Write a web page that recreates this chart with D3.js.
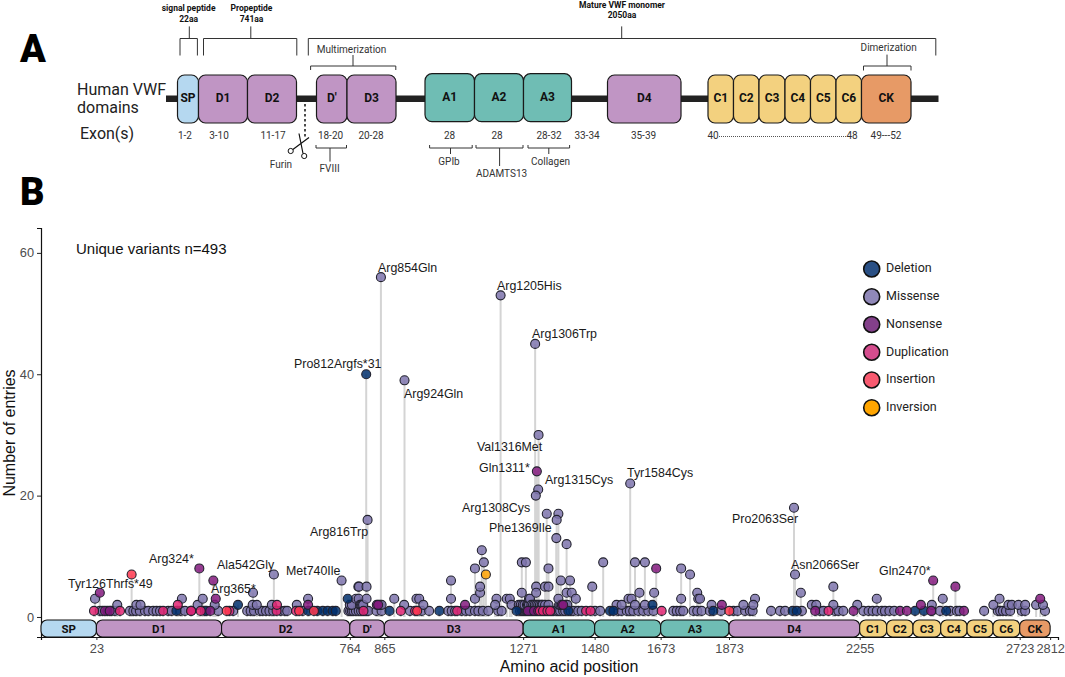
<!DOCTYPE html>
<html>
<head>
<meta charset="utf-8">
<script src="https://cdn.jsdelivr.net/npm/d3@7"></script>
<style>
  html, body { margin: 0; padding: 0; background: #fff; }
  svg { display: block; }
  .roboto { font-family: Roboto, sans-serif; }
  .arial { font-family: "Liberation Sans", Arial, sans-serif; }
</style>
</head>
<body>
<div id="chart"></div>
<script>
// variant positions (amino acid) that have one entry
const missenseOnes = [33,41,67,77,121,131,139,150,165,175,189,199,209,233,243,269,282,340,379,423,464,474,484,501,509,519,529,540,562,574,581,626,760,765,770,775,782,790,797,805,813,818,842,857,940,974,996,1052,1062,1072,1091,1104,1115,1130,1140,1153,1169,1198,1208,1262,1268,1271,1274,1278,1281,1283,1287,1291,1293,1296,1299,1301,1304,1306,1308,1310,1312,1316,1318,1320,1323,1325,1328,1330,1333,1335,1338,1340,1343,1345,1348,1350,1352,1354,1357,1360,1369,1374,1379,1388,1394,1410,1418,1432,1442,1481,1496,1549,1559,1574,1583,1593,1608,1622,1637,1652,1710,1720,1730,1739,1769,1780,1793,1817,1849,1886,1898,1920,1934,1942,1996,2022,2037,2086,2139,2149,2183,2193,2207,2266,2281,2293,2305,2320,2329,2342,2356,2466,2490,2520,2539,2547,2619,2659,2666,2674,2683,2695,2729,2739,2797];
const deletionOnes = [55,257,345,643,669,685,699,714,723,880,1026,1252,1290,1337,1403,1525,1535,1827,2059,2071,2417,2443,2508];
const nonsenseOnes = [48,62,300,356,1285,1303,1315,1346,2125,2237,2373,2393,2464,2560];
const duplicationOnes = [16,92,218,300,328,412,550,607,804,913,955,1078,1320,1329,1342,1350,1455,1468,1676,2164];
const insertionOnes = [404,616,659,961,1874];

// variants with more than one entry, [position, count]
const missenseStacked = [[19,3],[84,2],[140,2],[152,2],[273,3],[319,2],[334,3],[369,2],[480,2],[481,4],[492,2],[536,2],[542,7],[609,2],[642,3],[740,6],[764,2],[770,2],[782,3],[790,3],[789,5],[791,5],[794,2],[797,2],[800,2],[803,2],[813,3],[813,5],[816,16],[852,2],[857,2],[855,56],[894,3],[923,2],[924,39],[959,3],[967,3],[979,2],[1060,6],[1060,3],[1130,3],[1145,4],[1130,8],[1150,11],[1156,9],[1145,5],[1193,3],[1189,2],[1205,53],[1223,3],[1232,3],[1237,2],[1258,2],[1264,2],[1267,9],[1279,9],[1267,4],[1270,2],[1275,2],[1282,2],[1285,2],[1288,2],[1288,3],[1291,3],[1295,2],[1300,2],[1305,2],[1310,2],[1315,2],[1320,2],[1325,2],[1328,2],[1335,2],[1345,2],[1306,45],[1316,30],[1315,21],[1308,20],[1309,5],[1309,4],[1340,17],[1374,17],[1369,16],[1368,13],[1398,12],[1345,8],[1335,5],[1345,5],[1376,2],[1380,2],[1381,6],[1395,2],[1400,2],[1408,6],[1398,4],[1413,4],[1425,3],[1374,3],[1473,5],[1505,9],[1544,2],[1559,2],[1579,3],[1584,22],[1588,3],[1598,9],[1627,9],[1611,4],[1654,4],[1598,2],[1627,2],[1733,8],[1759,7],[1733,3],[1780,4],[1783,3],[1788,3],[1822,2],[1915,2],[1949,3],[1944,2],[2063,18],[2066,7],[2083,4],[2115,2],[2128,2],[2178,5],[2178,2],[2248,2],[2305,3],[2466,2],[2498,3],[2646,2],[2664,3],[2690,2],[2700,2],[2719,2],[2739,2],[2771,2],[2791,2]];
const deletionStacked = [[437,2],[758,3],[812,40],[1649,2]];
const nonsenseStacked = [[33,4],[324,8],[365,6],[372,3],[642,2],[843,2],[847,2],[1101,2],[1311,24],[1384,2],[1388,2],[1660,8],[1852,2],[2434,2],[2470,6],[2535,5],[2783,3]];
const duplicationStacked = [[261,2],[551,2]];
const insertionStacked = [[126,7]];
const inversionStacked = [[1162,7]];

const variantTypes = ["Deletion", "Missense", "Nonsense", "Duplication", "Insertion", "Inversion"];
const legendColors = ["#2a5085", "#9088b8", "#83408a", "#d54d8e", "#f85a70", "#ffa500"];
const pointColors = {Deletion: "#002f6c", Missense: "#7e74ad", Nonsense: "#841a7e", Duplication: "#e22572", Insertion: "#ff374f", Inversion: "#ffa200"};

// protein domains along the x axis
const domainNames = ["SP","D1","D2","D'","D3","A1","A2","A3","D4","C1","C2","C3","C4","C5","C6","CK"];
const domainEdges = [-139,23,389,764,865,1271,1480,1673,1873,2255,2334,2411,2492,2569,2645,2723,2812];
const domainFamilies = ["sp","d","d","d","d","a","a","a","d","c","c","c","c","c","c","k"];
const familyColors = {sp: "#b5d8f0", d: "#c095c4", a: "#6fbdb4", c: "#f3d17f", k: "#e79a66"};
const positionTicks = [23,764,865,1271,1480,1673,1873,2255,2723,2812];
const countTicks = [0,20,40,60];

const variantLabels = ["Tyr126Thrfs*49","Arg324*","Arg365*","Ala542Gly","Met740Ile","Arg816Trp","Pro812Argfs*31","Arg854Gln","Arg924Gln","Arg1205His","Arg1306Trp","Val1316Met","Gln1311*","Arg1315Cys","Arg1308Cys","Phe1369Ile","Tyr1584Cys","Pro2063Ser","Asn2066Ser","Gln2470*"];

// schematic texts of panel A
const schematicNames = ["SP","D1","D2","D'","D3","A1","A2","A3","D4","C1","C2","C3","C4","C5","C6","CK"];
const schematicFamilies = ["sp","d","d","d","d","a","a","a","d","c","c","c","c","c","c","k"];
const exonLabels = ["1-2","3-10","11-17","18-20","20-28","28","28","28-32","33-34","35-39","40","48","49---52"];

// ---- layout only below ----
const width = 1065, height = 677;
const labelStart = [[68,584],[149,559],[211,589],[217,565],[286,571],[310,532],[294,364],[378,268],[404,394],[497,286],[532,334],[477,447],[479,468],[545,480],[462,508],[489,528],[627,473],[732,519],[791,565],[879,571]];
const boxEdges = [[177.5,198.5],[198.5,247.5],[247.5,296.5],[316.5,347],[347,396],[425,474.5],[474.5,523.5],[523.5,571.5],[607.5,681],[708,733.5],[733.5,759],[759,785],[785,810.5],[810.5,836],[836,861.5],[861.5,911]];
const exonCenters = [185,219,273,330.5,371,449.5,497,549,587,643.5,713,852,886];

const svg = d3.select("#chart").append("svg")
  .attr("width", width)
  .attr("height", height)
  .attr("viewBox", [0, 0, width, height]);

const x = d3.scaleLinear().domain([-139, 2835]).range([41, 1058]);
const y = d3.scaleLinear().domain([-3.3, 64.1]).range([637, 228]);

// ---- panel B ----
const asPoints = (ones, stacked, type) =>
  ones.map(p => ({pos: p, count: 1, type: type}))
    .concat(stacked.map(d => ({pos: d[0], count: d[1], type: type})));

const points = [].concat(
  asPoints(missenseOnes, missenseStacked, "Missense"),
  asPoints(deletionOnes, deletionStacked, "Deletion"),
  asPoints(nonsenseOnes, nonsenseStacked, "Nonsense"),
  asPoints(duplicationOnes, duplicationStacked, "Duplication"),
  asPoints(insertionOnes, insertionStacked, "Insertion"),
  asPoints([], inversionStacked, "Inversion")
);

svg.append("g").selectAll("line")
  .data(points)
  .enter().append("line")
  .attr("x1", d => x(d.pos))
  .attr("x2", d => x(d.pos))
  .attr("y1", y(0))
  .attr("y2", d => y(d.count))
  .attr("stroke", "#d4d4d4")
  .attr("stroke-width", 2);

svg.append("g").selectAll("circle")
  .data(points)
  .enter().append("circle")
  .attr("cx", d => x(d.pos))
  .attr("cy", d => y(d.count))
  .attr("r", 4.5)
  .attr("fill", d => pointColors[d.type])
  .attr("fill-opacity", 0.85)
  .attr("stroke", "#22222e")
  .attr("stroke-width", 1.1);

// axes
const xAxis = svg.append("g")
  .attr("transform", `translate(0,${y(-3.3)})`)
  .call(d3.axisBottom(x).tickValues(positionTicks).tickFormat(d3.format("d")).tickSizeOuter(0).tickSize(3).tickPadding(4));
const yAxis = svg.append("g")
  .attr("transform", `translate(${x(-139)},0)`)
  .call(d3.axisLeft(y).tickValues(countTicks).tickSizeOuter(0).tickSize(4).tickPadding(3));
[xAxis, yAxis].forEach(a => {
  a.attr("class", "arial");
  a.selectAll("text").attr("fill", "#4d4d4d").style("font-size", "12.8px").style("font-family", "'Liberation Sans', Arial, sans-serif");
  a.selectAll("line").attr("stroke", "#222");
  a.select(".domain").attr("stroke", "#111").attr("stroke-width", 1.2);
});

// domain bar over the x axis
const domainBar = svg.append("g").selectAll("g")
  .data(domainNames)
  .enter().append("g");
domainBar.append("rect")
  .attr("x", (d, i) => x(domainEdges[i]))
  .attr("width", (d, i) => x(domainEdges[i + 1]) - x(domainEdges[i]))
  .attr("y", 620)
  .attr("height", 17)
  .attr("rx", 6)
  .attr("fill", (d, i) => familyColors[domainFamilies[i]])
  .attr("stroke", "#111")
  .attr("stroke-width", 1.1);
domainBar.append("text")
  .attr("class", "roboto")
  .attr("x", (d, i) => (x(domainEdges[i]) + x(domainEdges[i + 1])) / 2)
  .attr("y", 628.8)
  .attr("dy", "0.35em")
  .attr("text-anchor", "middle")
  .attr("font-size", 11.5)
  .attr("font-weight", 700)
  .attr("fill", "#111")
  .text(d => d);

// titles and notes
svg.append("text").attr("class", "arial")
  .attr("x", 569).attr("y", 672).attr("text-anchor", "middle")
  .attr("font-size", 16).attr("fill", "#111").text("Amino acid position");
svg.append("text").attr("class", "arial")
  .attr("transform", "translate(15,433) rotate(-90)").attr("text-anchor", "middle")
  .attr("font-size", 16).attr("fill", "#111").text("Number of entries");
svg.append("text").attr("class", "arial")
  .attr("x", 76).attr("y", 254).attr("font-size", 15).attr("fill", "#111").text("Unique variants n=493");

svg.append("g").attr("class", "arial").selectAll("text")
  .data(variantLabels)
  .enter().append("text")
  .attr("x", (d, i) => labelStart[i][0])
  .attr("y", (d, i) => labelStart[i][1])
  .attr("dy", "0.35em")
  .attr("font-size", 12.4)
  .attr("fill", "#1a1a1a")
  .text(d => d);

// legend
const legendY = d3.scalePoint().domain(variantTypes).range([269, 407.7]);
const legend = svg.append("g").selectAll("g")
  .data(variantTypes)
  .enter().append("g");
legend.append("circle")
  .attr("cx", 871.7)
  .attr("cy", d => legendY(d))
  .attr("r", 8)
  .attr("fill", (d, i) => legendColors[i])
  .attr("stroke", "#111")
  .attr("stroke-width", 1.6);
legend.append("text")
  .attr("class", "roboto")
  .attr("x", 886)
  .attr("y", d => legendY(d) - 1)
  .attr("dy", "0.35em")
  .attr("font-size", 12.5)
  .attr("fill", "#222")
  .text(d => d);

// ---- panel A ----
const panelA = svg.append("g").attr("class", "roboto");

panelA.append("text").attr("x", 20).attr("y", 62).attr("font-size", 38).attr("font-weight", 900).attr("fill", "#000").text("A");
panelA.append("text").attr("x", 20).attr("y", 205).attr("font-size", 38).attr("font-weight", 900).attr("fill", "#000").text("B");

[["Human VWF", 77, 89.6], ["domains", 77, 107.5], ["Exon(s)", 80, 133]].forEach(t => {
  panelA.append("text").attr("x", t[1]).attr("y", t[2]).attr("dy", "0.35em")
    .attr("font-size", 16).attr("fill", "#222").text(t[0]);
});

panelA.append("rect").attr("x", 166).attr("y", 95.5).attr("width", 772.5).attr("height", 6.5).attr("fill", "#222");

const boxes = panelA.selectAll("g.box")
  .data(schematicNames)
  .enter().append("g").attr("class", "box");
boxes.append("rect")
  .attr("x", (d, i) => boxEdges[i][0])
  .attr("width", (d, i) => boxEdges[i][1] - boxEdges[i][0])
  .attr("y", (d, i) => schematicFamilies[i] === "a" ? 73.7 : 75)
  .attr("height", 48)
  .attr("rx", 7)
  .attr("fill", (d, i) => familyColors[schematicFamilies[i]])
  .attr("stroke", "#1a1a1a")
  .attr("stroke-width", 1.2);
boxes.append("text")
  .attr("x", (d, i) => (boxEdges[i][0] + boxEdges[i][1]) / 2)
  .attr("y", (d, i) => schematicFamilies[i] === "a" ? 97 : 98)
  .attr("dy", "0.35em")
  .attr("text-anchor", "middle")
  .attr("font-size", 12)
  .attr("font-weight", 700)
  .attr("fill", "#111")
  .text(d => d);

panelA.append("g").selectAll("text")
  .data(exonLabels)
  .enter().append("text")
  .attr("x", (d, i) => exonCenters[i])
  .attr("y", 135.5)
  .attr("dy", "0.35em")
  .attr("text-anchor", "middle")
  .attr("font-size", 10)
  .attr("fill", "#333")
  .text(d => d);
panelA.append("line").attr("x1", 719).attr("x2", 846).attr("y1", 136.5).attr("y2", 136.5)
  .attr("stroke", "#555").attr("stroke-width", 1).attr("stroke-dasharray", "1 1");

// brackets: [left, right, barY, endY, stemX, stemY]
const brackets = [
  [180, 197.4, 38.5, 55.5, 189.3, 26.4],
  [203.5, 296.8, 38.5, 55.5, 250.8, 26.4],
  [308.3, 935.8, 38.5, 55.5, 621.7, 26.4],
  [310.6, 395.8, 66, 70, 353, 55],
  [863.5, 911, 66, 70.5, 887, 54.6],
  [316, 346.5, 148, 145, 330, 161.6],
  [429.6, 472.2, 148, 145, 450.5, 154],
  [476, 523, 148, 145, 499.6, 166],
  [528, 569.6, 148, 145, 548.8, 154]
];
panelA.append("g").selectAll("path")
  .data(brackets)
  .enter().append("path")
  .attr("d", b => `M${b[0]},${b[3]}V${b[2]}H${b[1]}V${b[3]}M${b[4]},${b[2]}V${b[5]}`)
  .attr("fill", "none")
  .attr("stroke", "#333")
  .attr("stroke-width", 1);

const headers = [
  ["signal peptide", 188.6, 8, 8.5, 700], ["22aa", 188.6, 18.6, 8.5, 700],
  ["Propeptide", 251.5, 8, 8.5, 700], ["741aa", 251.5, 18.6, 8.5, 700],
  ["Mature VWF monomer", 622, 5, 8.5, 700], ["2050aa", 622, 15.3, 8.5, 700],
  ["Multimerization", 351.5, 49, 10, 400], ["Dimerization", 888.7, 47.7, 10, 400],
  ["Furin", 281, 164.6, 10, 400], ["FVIII", 329.6, 168, 10, 400],
  ["GPIb", 449, 161, 10, 400], ["ADAMTS13", 501.6, 173, 10, 400], ["Collagen", 550.5, 161, 10, 400]
];
panelA.append("g").selectAll("text")
  .data(headers)
  .enter().append("text")
  .attr("x", d => d[1])
  .attr("y", d => d[2])
  .attr("dy", "0.35em")
  .attr("text-anchor", "middle")
  .attr("font-size", d => d[3])
  .attr("font-weight", d => d[4])
  .attr("fill", d => d[4] === 700 ? "#111" : "#333")
  .text(d => d[0]);

// furin cleavage mark and scissors
panelA.append("line").attr("x1", 305).attr("x2", 305).attr("y1", 104).attr("y2", 138.5)
  .attr("stroke", "#111").attr("stroke-width", 1.5).attr("stroke-dasharray", "2.5 2.5");
panelA.append("path").attr("d", "M309,137.6L292.5,149.7M299,133.5L303,153.5")
  .attr("fill", "none").attr("stroke", "#111").attr("stroke-width", 1.2);
panelA.append("circle").attr("cx", 290.7).attr("cy", 151).attr("r", 2.6).attr("fill", "#fff").attr("stroke", "#111");
panelA.append("circle").attr("cx", 304.2).attr("cy", 156).attr("r", 2.6).attr("fill", "#fff").attr("stroke", "#111");
</script>
</body>
</html>
